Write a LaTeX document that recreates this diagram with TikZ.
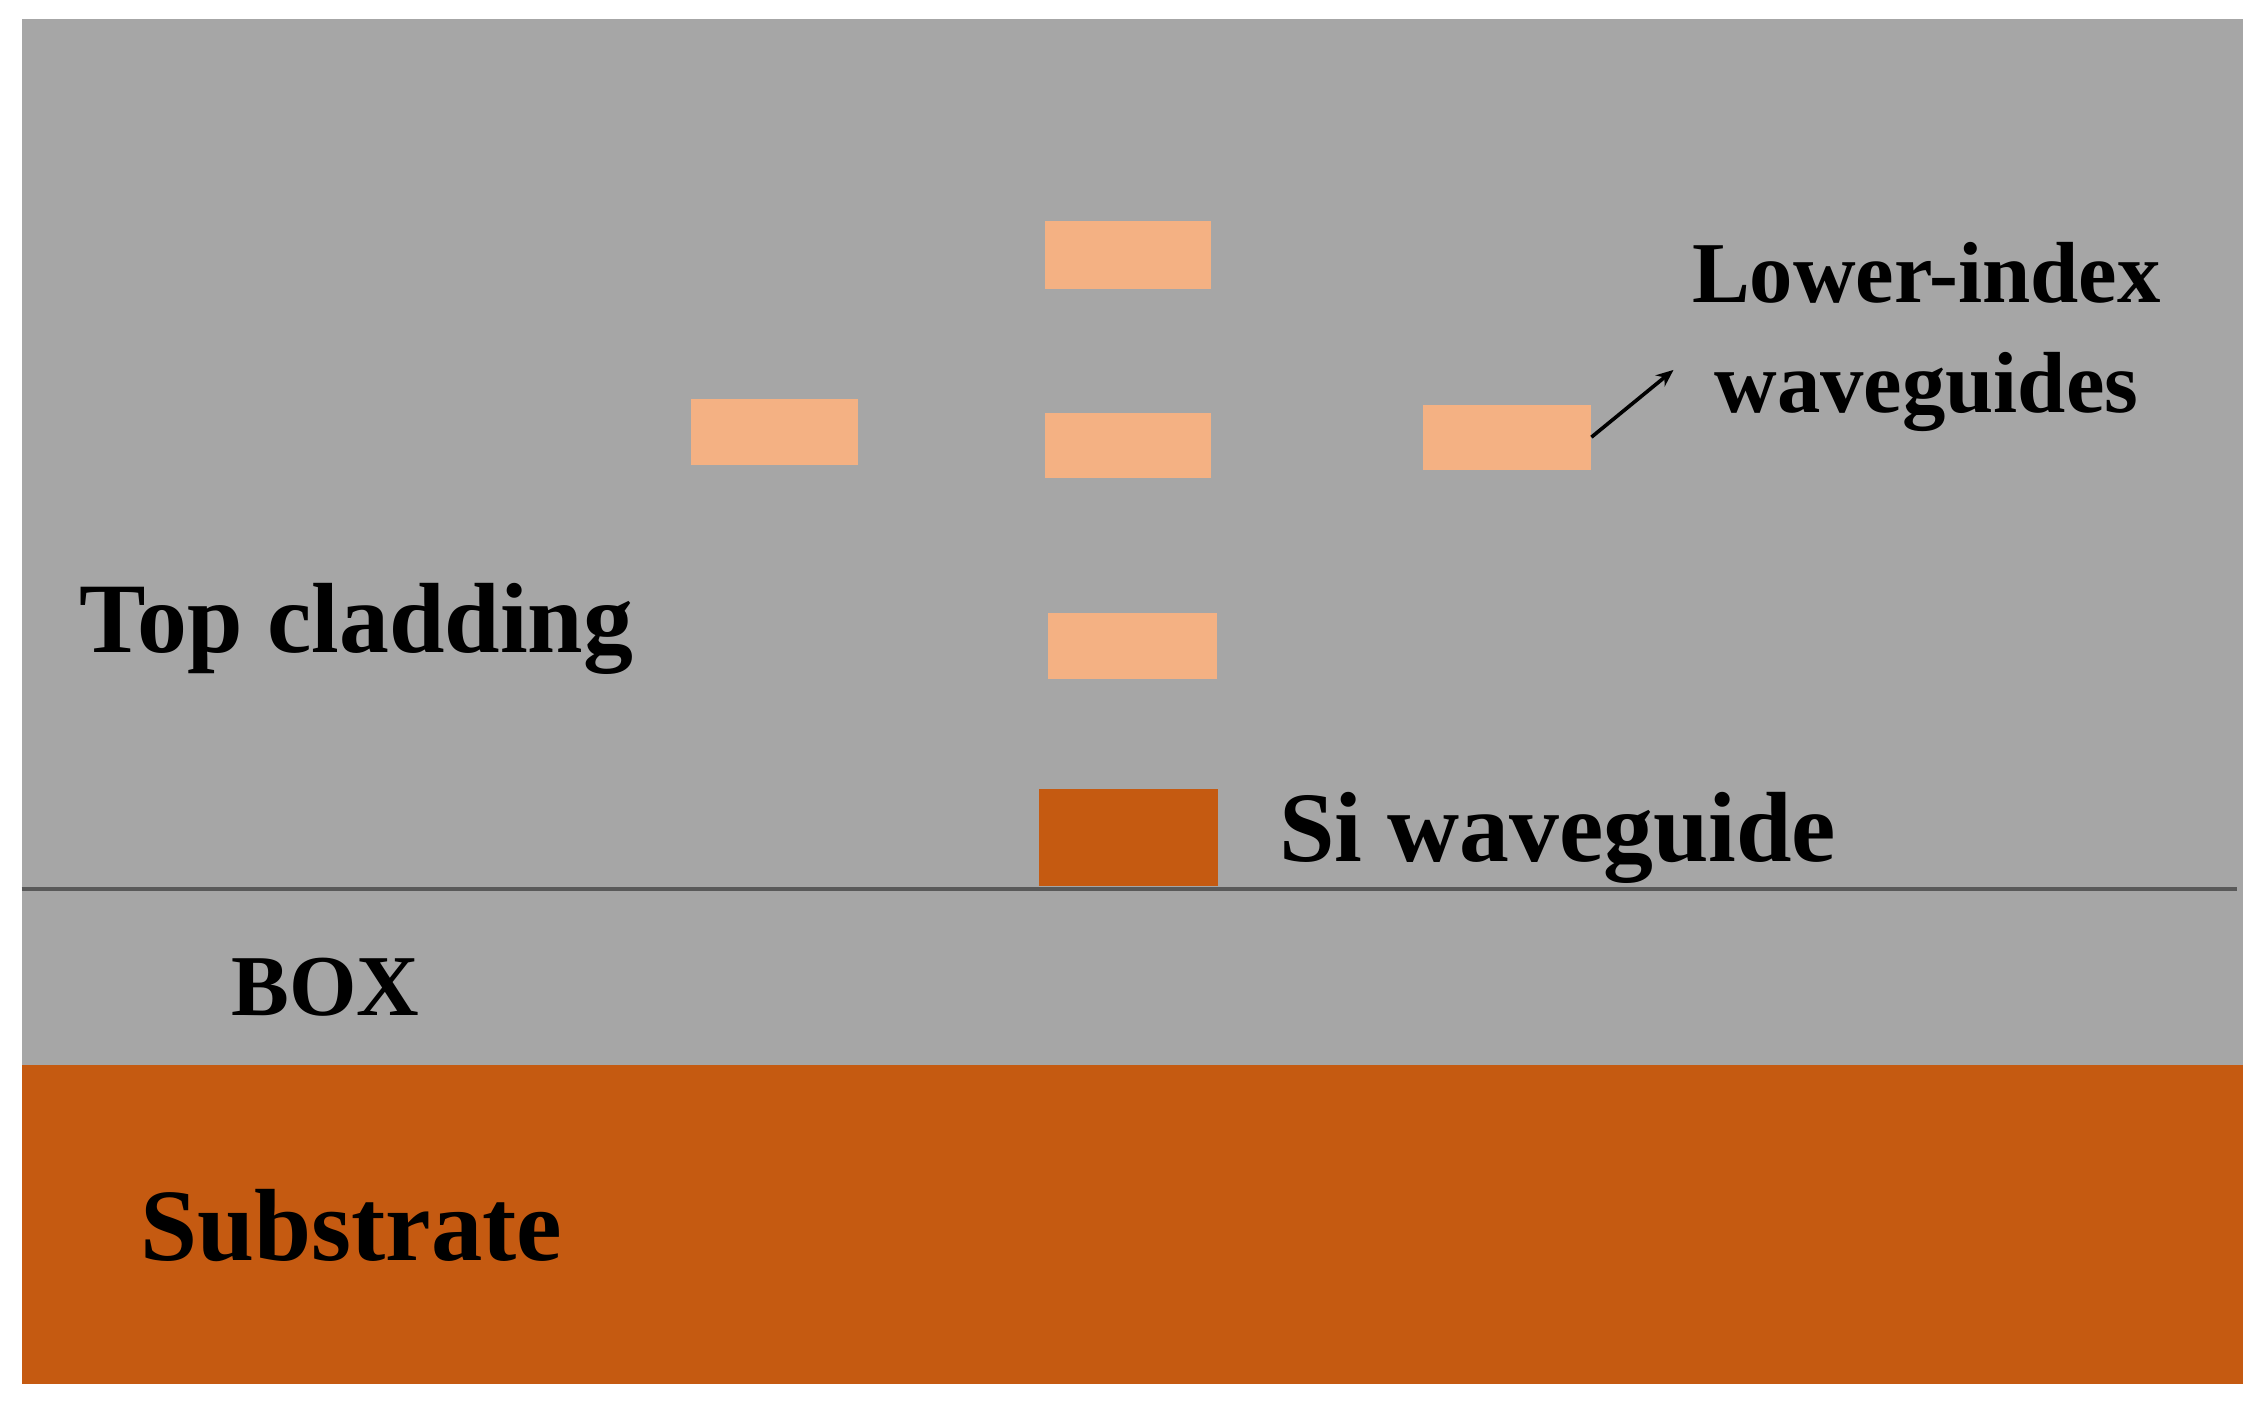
\documentclass[tikz,border=0pt]{standalone}
\usepackage{fontspec}
\usetikzlibrary{arrows.meta}
\setmainfont{Liberation Serif}
\begin{document}
\begin{tikzpicture}[x=1pt,y=-1pt,
  lw/.style={fill=lowc,draw=none},
  lbl/.style={font=\bfseries, inner sep=0pt, anchor=west}]
\definecolor{grayc}{HTML}{A6A6A6}
\definecolor{subc}{HTML}{C55A11}
\definecolor{lowc}{HTML}{F4B183}
\useasboundingbox (0,0) rectangle (1568,973.6);
\fill[white] (0,0) rectangle (1568,973.6);
\fill[grayc] (15,13) rectangle (1552,737);
\fill[subc] (15,737) rectangle (1552,958);
\draw[line width=2.5pt, draw=gray!70!black] (15,615) -- (1548,615);
\fill[subc] (719,546) rectangle (843,613);
\path[lw] (723,153) rectangle (838,200);
\path[lw] (478,276) rectangle (594,322);
\path[lw] (723,286) rectangle (838,331);
\path[lw] (725,424) rectangle (842,470);
\node[lw, inner sep=0pt, minimum width=116pt, minimum height=45pt] (r) at (1043,302.5) {};
\coordinate (t) at (1158,256);
\draw[line width=2.5pt, -{Stealth[length=12pt,width=10pt]}] (r.east) -- (t);
\node[font=\bfseries\fontsize{60}{76}\selectfont, align=center, inner sep=0pt] (lw) at (1333,233) {Lower-index\\waveguides};
\node[lbl, font=\bfseries\fontsize{69}{80}\selectfont] (tc) at (55,435) {Top cladding};
\node[lbl, font=\bfseries\fontsize{69}{80}\selectfont] (si) at (885,580) {Si waveguide};
\node[lbl, font=\bfseries\fontsize{60}{70}\selectfont] (box) at (160,683) {BOX};
\node[lbl, font=\bfseries\fontsize{71}{80}\selectfont] (sub) at (97,848) {Substrate};
\end{tikzpicture}
\end{document}
